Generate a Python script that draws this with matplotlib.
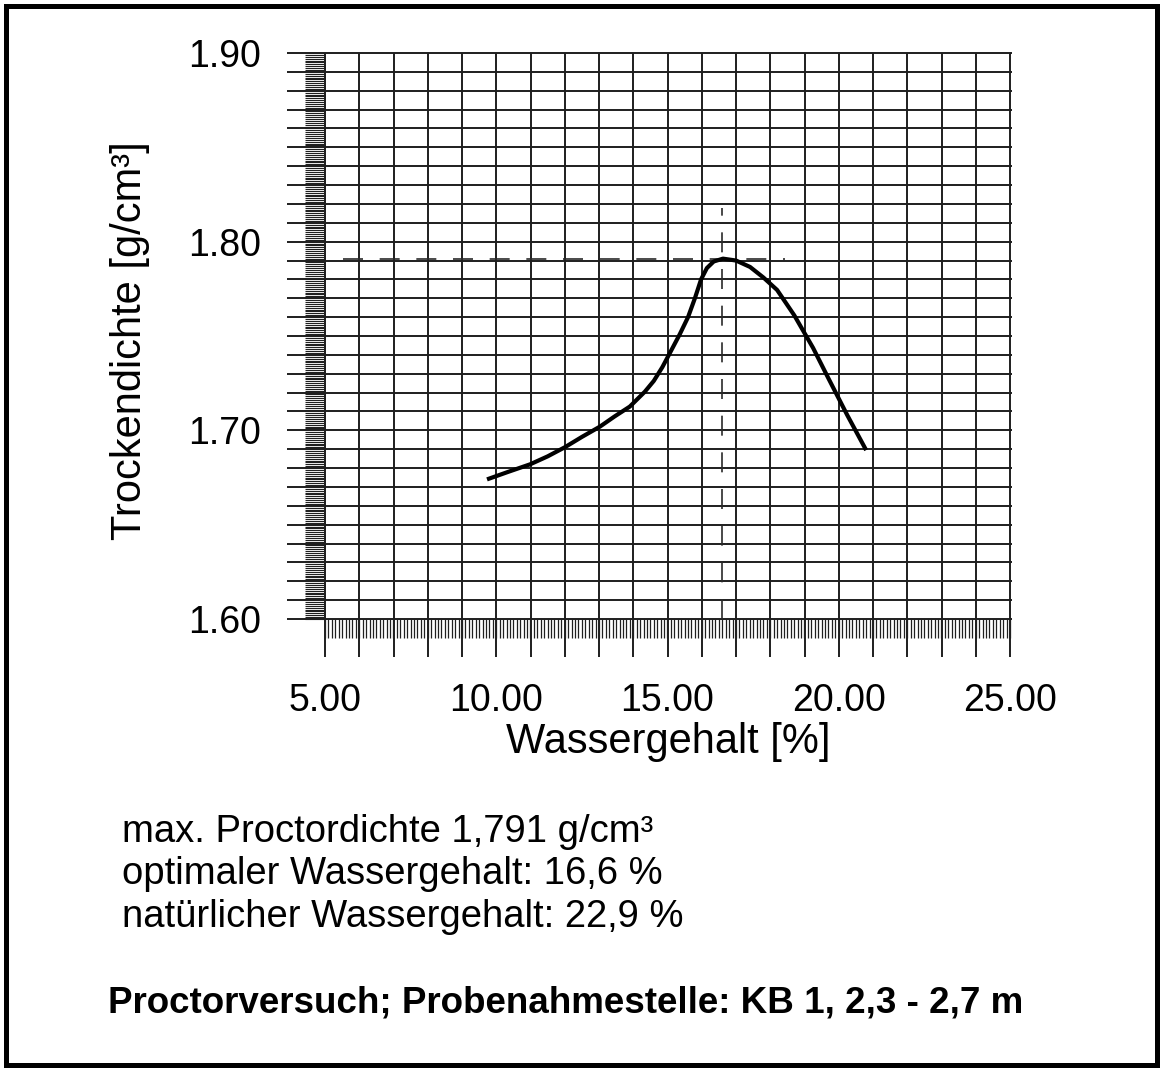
""" Proctorversuch: Trockendichte ueber Wassergehalt """

import numpy as np
import matplotlib
matplotlib.use("Agg")
import matplotlib.pyplot as plt
from matplotlib.patches import Rectangle

plt.rcParams["font.family"] = ["Liberation Sans", "DejaVu Sans"]

# Curve (Wassergehalt [%], Trockendichte [g/cm3])
water = [9.73, 10.35, 10.99, 11.5, 12.0, 12.5, 13.03, 13.45, 13.9, 14.34,
         14.6, 14.85, 15.07, 15.36, 15.6, 15.8, 15.98, 16.15, 16.35, 16.62,
         17.0, 17.41, 17.8, 18.2, 18.7, 19.25, 19.7, 20.25, 20.8]
density = [1.674, 1.678, 1.682, 1.6862, 1.691, 1.6965, 1.702, 1.7073, 1.7126, 1.7205,
           1.7262, 1.7335, 1.741, 1.751, 1.760, 1.770, 1.780, 1.786, 1.7895, 1.791,
           1.790, 1.7866, 1.781, 1.7744, 1.761, 1.7437, 1.7275, 1.708, 1.6895]

w_opt = 16.6
rho_max = 1.791

x_ticks = [5, 10, 15, 20, 25]
x_labels = ["5.00", "10.00", "15.00", "20.00", "25.00"]
y_ticks = [1.60, 1.70, 1.80, 1.90]
y_labels = ["1.60", "1.70", "1.80", "1.90"]

info_lines = ["max. Proctordichte 1,791 g/cm³",
              "optimaler Wassergehalt: 16,6 %",
              "natürlicher Wassergehalt: 22,9 %"]
title = "Proctorversuch; Probenahmestelle: KB 1, 2,3 - 2,7 m"

W, H = 1160, 1068
fig = plt.figure(figsize=(W / 100, H / 100), dpi=100)
ax = fig.add_axes([325 / W, 1 - 619 / H, 685 / W, 566 / H])
ax.set_xlim(5, 25)
ax.set_ylim(1.60, 1.90)
for s in ax.spines.values():
    s.set_visible(False)

grid_kw = dict(color="#1e1e1e", lw=1.4, clip_on=False, zorder=1)

# grid: every 1 % and every 0.01 g/cm3, extending past the axes
ys = np.round(np.arange(1.60, 1.9001, 0.01), 3)
ax.hlines(ys, 3.89, 25.05, **grid_kw)
xs = np.arange(5, 25.001, 1.0)
ax.vlines(xs, 1.58, 1.90, **grid_kw)

# dense scale ticks on both axes
fine_y = np.arange(1.60, 1.9001, 0.001)
ax.hlines(fine_y, 4.42, 5, color="#202020", lw=0.8, clip_on=False, zorder=1)
fine_x = np.arange(5, 25.001, 0.1)
ax.vlines(fine_x, 1.590, 1.60, color="#202020", lw=0.9, clip_on=False, zorder=1)

# optimum markers
ax.plot([5.53, 18.43], [rho_max, rho_max], color="#2a2a2a", lw=1.2,
        dashes=(12, 10), zorder=2)
ax.plot([w_opt, w_opt], [1.60, 1.818], color="#2a2a2a", lw=1.2,
        dashes=(12, 10), zorder=2)

ax.plot(water, density, color="black", lw=3.0, solid_capstyle="butt",
        solid_joinstyle="round", zorder=3)

ax.set_xticks(x_ticks)
ax.set_xticklabels(x_labels)
ax.set_yticks(y_ticks)
ax.set_yticklabels(y_labels)
ax.tick_params(axis="both", length=0, labelsize=27)
ax.tick_params(axis="x", pad=46)
ax.tick_params(axis="y", pad=46)

fig.text(668 / W, 1 - 742 / H, "Wassergehalt [%]", fontsize=30,
         ha="center", va="center")
fig.text(130 / W, 1 - 341 / H, "Trockendichte [g/cm³]", fontsize=30,
         ha="center", va="center", rotation=90)

for i, line in enumerate(info_lines):
    fig.text(122 / W, 1 - (842 + 42.5 * i) / H, line, fontsize=27.5,
             ha="left", va="baseline")
fig.text(108 / W, 1 - 1012 / H, title, fontsize=26.5, fontweight="bold",
         ha="left", va="baseline")

fig.patches.append(Rectangle((5.5 / W, 3.5 / H), 1151 / W, 1059 / H,
                             transform=fig.transFigure, fill=False,
                             edgecolor="black", lw=3.6))

fig.savefig("out.png", dpi=100)
